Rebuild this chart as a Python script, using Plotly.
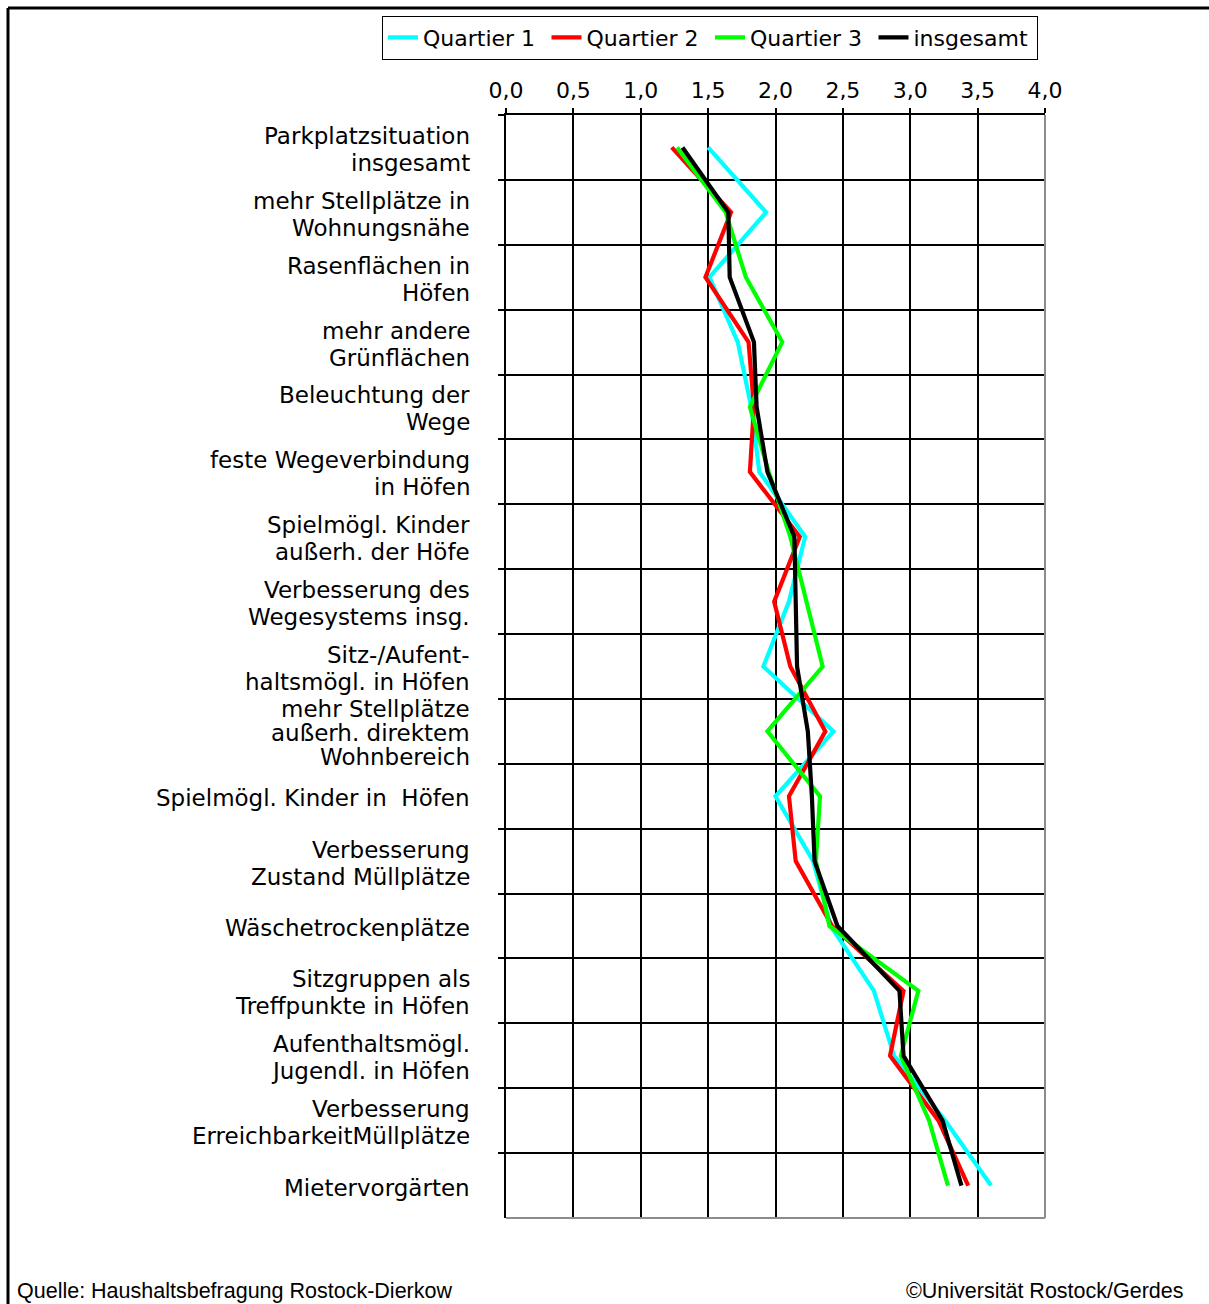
import plotly.graph_objects as go

categories = [
    "Parkplatzsituation<br>insgesamt",
    "mehr Stellplätze in<br>Wohnungsnähe",
    "Rasenflächen in<br>Höfen",
    "mehr andere<br>Grünflächen",
    "Beleuchtung der<br>Wege",
    "feste Wegeverbindung<br>in Höfen",
    "Spielmögl. Kinder<br>außerh. der Höfe",
    "Verbesserung des<br>Wegesystems insg.",
    "Sitz-/Aufent-<br>haltsmögl. in Höfen",
    "mehr Stellplätze<br>außerh. direktem<br>Wohnbereich",
    "Spielmögl. Kinder in  Höfen",
    "Verbesserung<br>Zustand Müllplätze",
    "Wäschetrockenplätze",
    "Sitzgruppen als<br>Treffpunkte in Höfen",
    "Aufenthaltsmögl.<br>Jugendl. in Höfen",
    "Verbesserung<br>ErreichbarkeitMüllplätze",
    "Mietervorgärten",
]

quartier1 = [1.50, 1.93, 1.51, 1.72, 1.82, 1.88, 2.22, 2.10, 1.91, 2.43, 2.00, 2.28, 2.41, 2.73, 2.88, 3.26, 3.60]
quartier2 = [1.23, 1.67, 1.48, 1.80, 1.84, 1.81, 2.18, 1.99, 2.11, 2.37, 2.10, 2.15, 2.42, 2.95, 2.85, 3.21, 3.43]
quartier3 = [1.27, 1.63, 1.78, 2.05, 1.81, 1.95, 2.11, 2.23, 2.35, 1.94, 2.33, 2.30, 2.40, 3.06, 2.93, 3.14, 3.28]
insgesamt = [1.31, 1.65, 1.66, 1.84, 1.86, 1.94, 2.14, 2.15, 2.16, 2.24, 2.27, 2.29, 2.46, 2.92, 2.95, 3.24, 3.38]

series_names = ["Quartier 1", "Quartier 2", "Quartier 3", "insgesamt"]
series_values = [quartier1, quartier2, quartier3, insgesamt]
series_colors = ["#00FFFF", "#FF0000", "#00FF00", "#000000"]

x_ticks = [0.0, 0.5, 1.0, 1.5, 2.0, 2.5, 3.0, 3.5, 4.0]

W, H = 1209, 1304
L, R, T, B = 506, 1045, 115, 1218
pw, ph = R - L, B - T

def px(xp):
    return (xp - L) / pw

def py(yp):
    return (B - yp) / ph

FONT = "DejaVu Sans"

fig = go.Figure()
for name, vals, col in zip(series_names, series_values, series_colors):
    fig.add_trace(go.Scatter(
        x=vals, y=categories, mode="lines", name=name,
        line=dict(color=col, width=4.2),
    ))

fig.update_layout(
    width=W, height=H,
    margin=dict(l=L, r=W - R, t=T, b=H - B, autoexpand=False),
    paper_bgcolor="white", plot_bgcolor="white",
    separators=",.",
    font=dict(family=FONT, size=22, color="black"),
    showlegend=True,
    legend=dict(
        orientation="h", x=px(382), xanchor="left", y=py(15.5), yanchor="top",
        bordercolor="black", borderwidth=1, bgcolor="white",
        font=dict(family=FONT, size=22, color="black"),
        entrywidth=118.5, itemwidth=30,
    ),
    xaxis=dict(
        side="top", range=[0, 4], tickmode="array", tickvals=x_ticks,
        tickformat=".1f", ticks="outside", ticklen=5, tickwidth=1.5, tickcolor="black",
        showline=True, linecolor="black", linewidth=1.5,
        showgrid=True, gridcolor="black", gridwidth=1.5, zeroline=False,
        ticklabelstandoff=1, fixedrange=True,
        tickfont=dict(family=FONT, size=22, color="black"),
    ),
    yaxis=dict(
        type="category", categoryorder="array", categoryarray=categories,
        range=[len(categories) - 0.5, -0.5], tickson="boundaries",
        ticks="outside", ticklen=6, tickwidth=1.5, tickcolor="black",
        showticklabels=False,
        showline=True, linecolor="black", linewidth=1.5,
        showgrid=True, gridcolor="black", gridwidth=1.5, zeroline=False,
        fixedrange=True,
    ),
    hovermode=False,
)

# category labels, one annotation per text line for tight line spacing
for i, cat in enumerate(categories):
    lines = cat.split("<br>")
    n = len(lines)
    spacing = 24 if n >= 3 else 27
    for k, line in enumerate(lines):
        offset = (k - (n - 1) / 2) * spacing
        fig.add_annotation(
            text=line, xref="paper", yref="y", x=px(472), xanchor="right",
            y=i, yanchor="middle", yshift=-offset - 2, showarrow=False,
            font=dict(family=FONT, size=23, color="black"),
        )

shapes = [
    # outer frame (top and left)
    dict(type="line", xref="paper", yref="paper", x0=px(8), x1=px(W + 5), y0=py(8), y1=py(8),
         line=dict(color="black", width=3)),
    dict(type="line", xref="paper", yref="paper", x0=px(8), x1=px(8), y0=py(8), y1=py(H + 5),
         line=dict(color="black", width=3)),
    # grey bottom and right plot border
    dict(type="line", xref="paper", yref="paper", x0=0, x1=1, y0=0, y1=0,
         line=dict(color="#8c8c8c", width=2)),
    dict(type="line", xref="paper", yref="paper", x0=1, x1=1, y0=0, y1=1,
         line=dict(color="#8c8c8c", width=2)),
]
fig.update_layout(shapes=shapes)

fig.add_annotation(text="Quelle: Haushaltsbefragung Rostock-Dierkow", xref="paper", yref="paper",
                   x=px(15), xanchor="left", y=py(1291), yanchor="middle", showarrow=False,
                   font=dict(family="Liberation Sans", size=21.5, color="black"))
fig.add_annotation(text="©Universität Rostock/Gerdes", xref="paper", yref="paper",
                   x=px(1186), xanchor="right", y=py(1291), yanchor="middle", showarrow=False,
                   font=dict(family="Liberation Sans", size=21.5, color="black"))

fig.write_html("out.html", config={"displayModeBar": False},
               post_script="document.body.style.margin='0';document.body.style.overflow='hidden';")
